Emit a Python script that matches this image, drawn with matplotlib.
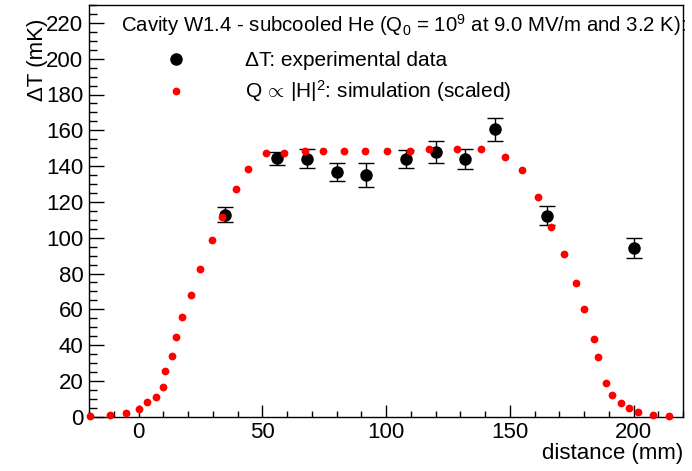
import matplotlib
matplotlib.use('Agg')
import matplotlib.pyplot as plt
from matplotlib.ticker import MultipleLocator

plt.rcParams['font.family'] = ['Liberation Sans', 'DejaVu Sans']
plt.rcParams['mathtext.fontset'] = 'custom'
plt.rcParams['mathtext.rm'] = 'Liberation Sans'
plt.rcParams['mathtext.it'] = 'Liberation Sans:italic'
plt.rcParams['mathtext.sf'] = 'Liberation Sans'

# measured temperature rise (black points)
x_exp = [35, 56, 68, 80, 92, 108, 120, 132, 144, 165, 200]
dT_exp = [112.8, 144.4, 144.0, 136.5, 135.0, 144.1, 147.9, 144.1, 160.7, 112.3, 94.1]
dT_err = [4.3, 3.7, 5.3, 5.1, 6.5, 5.1, 6.3, 5.5, 6.4, 5.4, 5.6]

# scaled simulation (red points)
x_sim = [-19.4, -11.6, -5.0, 0.0, 3.6, 7.0, 9.7, 10.6, 13.4, 15.2,
         17.6, 21.3, 24.9, 29.5, 33.6, 39.4, 44.3, 51.7, 58.7, 67.3,
         74.4, 83.2, 91.5, 100.3, 109.6, 117.4, 128.6, 138.2, 147.9, 154.9,
         161.5, 166.5, 171.8, 176.9, 180.1, 183.9, 185.8, 189.0, 191.4, 195.1,
         198.0, 201.8, 207.7, 214.2]
dT_sim = [0.2, 1.1, 2.1, 4.5, 8.0, 11.2, 16.6, 25.7, 33.9, 44.5,
          55.9, 67.8, 82.5, 98.7, 111.7, 127.2, 138.5, 147.1, 147.1, 148.3,
          148.5, 148.3, 148.3, 148.3, 148.3, 149.4, 149.4, 149.4, 145.3, 137.8,
          122.5, 106.1, 90.9, 74.7, 59.9, 43.3, 33.2, 19.0, 12.3, 7.8,
          4.7, 2.4, 1.1, 0.4]

W, H = 692, 471
fig = plt.figure(figsize=(W / 100, H / 100), dpi=100)
ax = fig.add_axes([89 / W, 1 - 416.7 / H, 594 / W, 411.7 / H])

eb = ax.errorbar(x_exp, dT_exp, yerr=dT_err, fmt='o', color='black', ms=8,
                 elinewidth=1, capsize=5.5, capthick=1, clip_on=False, zorder=3)
sim, = ax.plot(x_sim, dT_sim, 'o', color='red', ms=5.6, mec='none',
               clip_on=False, zorder=4)

ax.set_xlim(-20, 220)
ax.set_ylim(0, 230)
ax.xaxis.set_major_locator(MultipleLocator(50))
ax.xaxis.set_minor_locator(MultipleLocator(10))
ax.yaxis.set_major_locator(MultipleLocator(20))
ax.yaxis.set_minor_locator(MultipleLocator(5))
ax.tick_params(which='both', direction='in', top=False, right=False,
               labelsize=16, width=1)
ax.tick_params(axis='x', which='major', length=8.6, pad=4)
ax.tick_params(axis='x', which='minor', length=4.3)
ax.tick_params(axis='y', which='major', length=11, pad=4)
ax.tick_params(axis='y', which='minor', length=5.5)
for s in ax.spines.values():
    s.set_linewidth(1)

fig.text(683 / W, 1 - 453 / H, 'distance (mm)', ha='right', va='center',
         fontsize=16)
fig.text(38 / W, 1 - 19 / H, 'ΔT (mK)', rotation=90, ha='center', va='top',
         fontsize=16)

ax.text(0.054, 0.951,
        'Cavity W1.4 - subcooled He (Q$_{0}$ = 10$^{9}$ at 9.0 MV/m and 3.2 K):',
        transform=ax.transAxes, ha='left', va='center', fontsize=14.7,
        clip_on=False)
ax.legend([eb.lines[0], sim],
          ['ΔT: experimental data', 'Q$\\,\\propto\\,$|H|$^{2}$: simulation (scaled)'],
          loc='upper left', bbox_to_anchor=(0.0584, 0.8883), frameon=False,
          fontsize=15, numpoints=1, handlelength=5.02, handletextpad=0.8,
          borderpad=0, borderaxespad=0, labelspacing=0.41)

fig.savefig('out.png', dpi=100)
